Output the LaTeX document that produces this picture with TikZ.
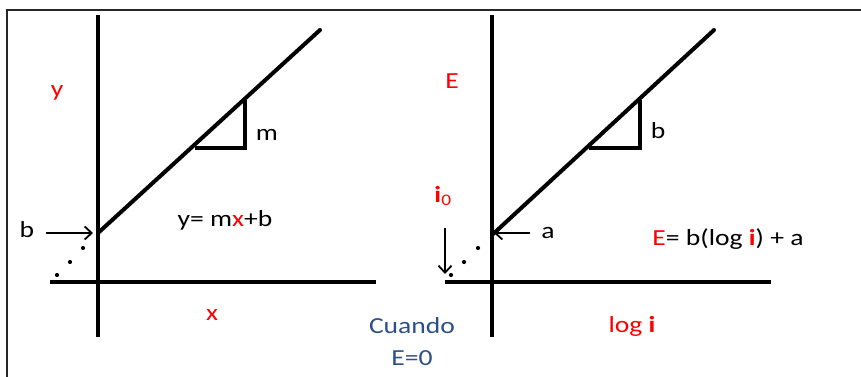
\documentclass[tikz,border=0pt]{standalone}
\usepackage{fontspec}
\setmainfont{Carlito}[FakeStretch=1.2]
\usetikzlibrary{arrows.meta}
\definecolor{redtxt}{HTML}{FF0000}
\definecolor{bluetxt}{HTML}{2C4F87}
\begin{document}
\begin{tikzpicture}[x=1pt,y=-1pt,
  axis/.style={line width=4.4pt},
  slope/.style={line width=4pt, line cap=round},
  tri/.style={line width=3.4pt},
  ptr/.style={line width=1.8pt,-{Straight Barb[length=7pt,width=13pt,line width=1.8pt]}},
  lab/.style={font=\fontsize{23}{26}\selectfont, anchor=base, inner sep=0pt},
  dotm/.style={circle, fill=black, inner sep=0pt, minimum size=4.2pt}]
\useasboundingbox (0,0) rectangle (861,377);
% frame
\draw[line width=2.2pt, black!85] (7,377) -- (7,10) -- (861,10);
% ---- left graph ----
\coordinate (lvT) at (98,15); \coordinate (lvB) at (98,337);
\coordinate (lhL) at (50,282); \coordinate (lhR) at (376,282);
\coordinate (lo) at (98,233); \coordinate (le) at (320,30);
\coordinate (ltA) at (245,100); \coordinate (ltC) at (245,148); \coordinate (ltB) at (195,148);
\draw[axis] (lvT) -- (lvB);
\draw[axis] (lhL) -- (lhR);
\draw[slope] (lo) -- (le);
\draw[tri] (ltA) -- (ltC) -- (ltB);
\node[lab, text=redtxt] (ly) at (57,97) {y};
\node[lab] (lm) at (267,140) {m};
\node[lab] (lb) at (27,237) {b};
\node[lab] (leq) at (225,226) {y= m{\color{redtxt}x}+b};
\node[lab, text=redtxt] (lx) at (212,320) {x};
\coordinate (lbs) at (46,233); \coordinate (lbe) at (93,233);
\draw[ptr] (lbs) -- (lbe);
\node[dotm] (ld1) at (83,248) {};
\node[dotm] (ld2) at (70,262) {};
\node[dotm] (ld3) at (57,275) {};
% ---- right graph ----
\coordinate (rvT) at (492,15); \coordinate (rvB) at (492,337);
\coordinate (rhL) at (445,282); \coordinate (rhR) at (771,282);
\coordinate (ro) at (492,235); \coordinate (re) at (714,30);
\coordinate (rtA) at (640,100); \coordinate (rtC) at (640,148); \coordinate (rtB) at (589,148);
\draw[axis] (rvT) -- (rvB);
\draw[axis] (rhL) -- (rhR);
\draw[slope] (ro) -- (re);
\draw[tri] (rtA) -- (rtC) -- (rtB);
\node[lab, text=redtxt] (rE) at (452,89) {E};
\node[lab] (rb) at (658,139) {b};
\node[lab, text=redtxt] (ri) at (443,202) {\textbf{i}\textsubscript{0}};
\node[lab] (ra) at (548,238) {a};
\node[lab] (req) at (728,245) {{\color{redtxt}E}= b(log {\color{redtxt}\textbf{i}}) + a};
\node[lab, text=redtxt] (rlog) at (632,332) {log \textbf{i}};
\coordinate (ras) at (530,233); \coordinate (rae) at (494,233);
\draw[ptr] (ras) -- (rae);
\coordinate (ris) at (445,228); \coordinate (rie) at (445,274);
\draw[ptr] (ris) -- (rie);
\node[dotm] (rd1) at (478,248) {};
\node[dotm] (rd2) at (464,262) {};
\node[dotm] (rd3) at (451,275) {};
% ---- middle note ----
\node[lab, text=bluetxt] (c1) at (412,333) {Cuando};
\node[lab, text=bluetxt] (c2) at (412,365) {E=0};
\end{tikzpicture}
\end{document}
